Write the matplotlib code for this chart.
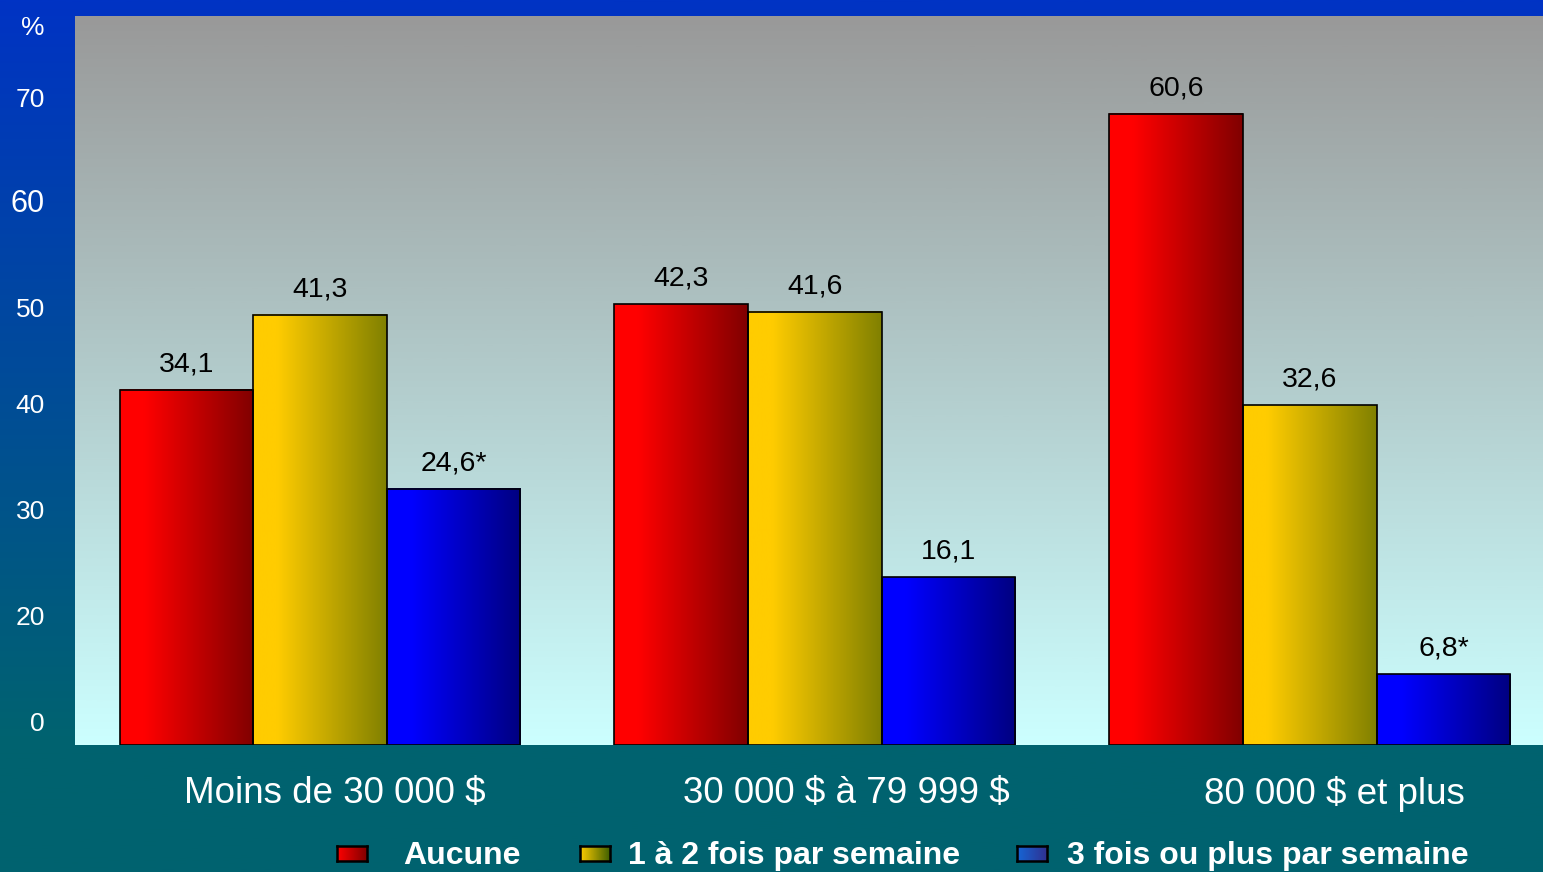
import numpy as np
import matplotlib
matplotlib.use("Agg")
import matplotlib.pyplot as plt
from matplotlib.colors import LinearSegmentedColormap
from matplotlib.transforms import ScaledTranslation

plt.rcParams['font.family'] = ['Liberation Sans', 'DejaVu Sans']
plt.rcParams['text.parse_math'] = False

# Data
categories = ['Moins de 30 000 $', '30 000 $ à 79 999 $', '80 000 $ et plus']
series = ['Aucune', '1 à 2 fois par semaine', '3 fois ou plus par semaine']
aucune = [34.1, 42.3, 60.6]
une_deux = [41.3, 41.6, 32.6]
trois_plus = [24.6, 16.1, 6.8]
value_labels = [['34,1', '42,3', '60,6'],
                ['41,3', '41,6', '32,6'],
                ['24,6*', '16,1', '6,8*']]
# y tick labels as they appear in the original (shifted against the bars)
ytick_pos = [2.3, 12.4, 22.6, 32.75, 42.0, 52.3, 62.2, 69.1]
ytick_lab = ['0', '20', '30', '40', '50', '60', '70', '%']

bar_colors = [('#ff0000', '#800000'), ('#ffcc00', '#808000'), ('#0000ff', '#000080')]
legend_colors = [('#ff0000', '#800000'), ('#ffcc00', '#406000'), ('#1566d6', '#303090')]

W, H = 1543, 872
fig = plt.figure(figsize=(W / 100, H / 100), dpi=100)

# figure background gradient (blue top -> teal bottom)
bgax = fig.add_axes([0, 0, 1, 1], zorder=-10)
fig_cmap = LinearSegmentedColormap.from_list('figbg', [(0, '#00626f'), (0.145, '#00636f'), (1, '#0033c4')])
bgax.imshow(np.linspace(0, 1, 512).reshape(-1, 1), cmap=fig_cmap, origin='lower',
            aspect='auto', extent=[0, 1, 0, 1])
bgax.axis('off')

ax = fig.add_axes([75 / W, (H - 745) / H, (W - 75) / W, (745 - 16) / H])
ax.set_facecolor('none')
for s in ax.spines.values():
    s.set_visible(False)

# plot area gradient (gray top -> pale cyan bottom)
area_cmap = LinearSegmentedColormap.from_list('area', ['#ccffff', '#999999'])
ax.imshow(np.linspace(0, 1, 512).reshape(-1, 1), cmap=area_cmap, origin='lower',
          aspect='auto', extent=[0, 1, 0, 1], transform=ax.transAxes, zorder=0)

x = np.arange(len(categories))
width = 0.27
grad = np.linspace(0, 1, 256).reshape(1, -1)
for i, (vals, (c1, c2)) in enumerate(zip([aucune, une_deux, trois_plus], bar_colors)):
    bars = ax.bar(x + (i - 1) * width, vals, width, facecolor='none',
                  edgecolor='black', linewidth=1.2, zorder=3)
    cmap = LinearSegmentedColormap.from_list('g%d' % i, [(0, c1), (0.18, c1), (1, c2)])
    for b in bars:
        bb = b.get_bbox()
        ax.imshow(grad, cmap=cmap, aspect='auto', zorder=2,
                  extent=[bb.x0, bb.x1, bb.y0, bb.y1])
    ax.bar_label(bars, labels=value_labels[i], padding=9, fontsize=20.5, color='black')

ax.set_xlim(-0.495, 2.471)
ax.set_ylim(0, 70)

ax.set_yticks(ytick_pos, ytick_lab)
ax.tick_params(axis='y', length=0, pad=21.6, labelsize=19, labelcolor='white')
ax.get_yticklabels()[5].set_fontsize(22)

ax.set_xticks(x, categories)
ax.tick_params(axis='x', length=0, pad=22, labelsize=26.5, labelcolor='white')
# labels sit a little right of the group centres in the original
for lbl, dx in zip(ax.get_xticklabels(), [0.15, 0.31, 0.25]):
    lbl.set_transform(lbl.get_transform() + ScaledTranslation(dx, 0, fig.dpi_scale_trans))

# legend drawn by hand with gradient swatches
patch_x = [337, 580, 1017]
text_x = [403, 628, 1067]
for px, tx, name, (c1, c2) in zip(patch_x, text_x, series, legend_colors):
    pax = fig.add_axes([px / W, (H - 861) / H, 30 / W, 15 / H])
    cm = LinearSegmentedColormap.from_list('lg', [c1, c2])
    pax.imshow(grad, cmap=cm, aspect='auto')
    pax.set_xticks([])
    pax.set_yticks([])
    for s in pax.spines.values():
        s.set_linewidth(1.8)
        s.set_color('black')
    fig.text(tx / W, (H - 856) / H, name, fontsize=23, fontweight='bold',
             color='white', va='center', ha='left')

fig.savefig('out.png', dpi=100)
